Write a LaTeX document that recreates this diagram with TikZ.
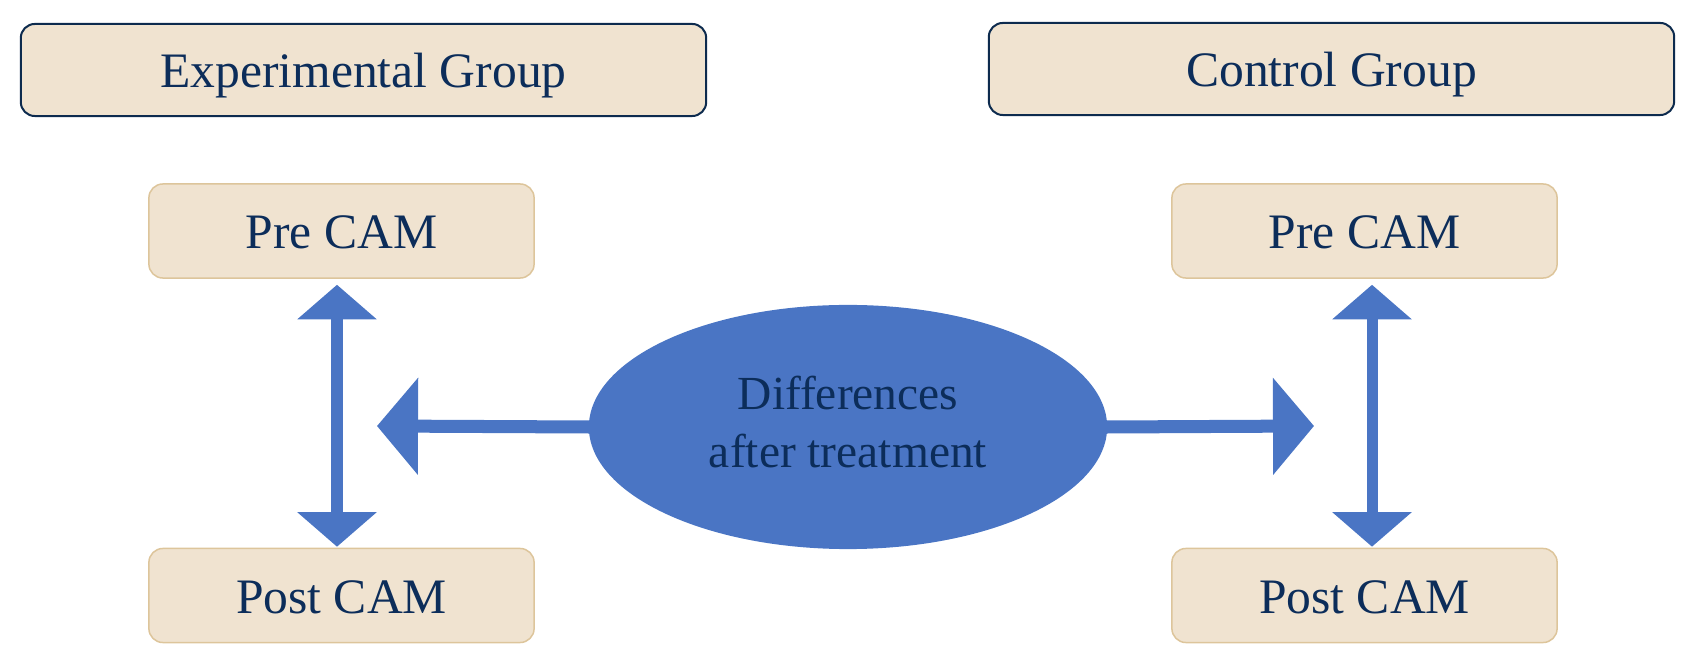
\documentclass[tikz,border=0pt]{standalone}
\usepackage{fontspec}
\setmainfont{Liberation Serif}
\usetikzlibrary{arrows.meta,shapes.geometric}
\definecolor{beige}{HTML}{F0E3D0}
\definecolor{navy}{HTML}{0D2B4E}
\definecolor{txt}{HTML}{0C2D5A}
\definecolor{tan}{HTML}{DDC59B}
\definecolor{blu}{HTML}{4A75C4}
\tikzset{
  groupbox/.style={draw=navy, line width=0.02cm, fill=beige, rounded corners=0.14cm,
    minimum width=6.85cm, minimum height=0.92cm, inner sep=0pt, text=txt,
    text height=11.5pt, text depth=1.3pt,
    font=\fontsize{14.1pt}{17pt}\selectfont},
  cambox/.style={draw=tan, line width=0.015cm, fill=beige, rounded corners=0.14cm,
    minimum width=3.85cm, minimum height=0.94cm, inner sep=0pt, text=txt,
    text height=11.5pt, text depth=1.3pt,
    font=\fontsize{14.1pt}{17pt}\selectfont},
  diffell/.style={ellipse, fill=blu, draw=none, minimum width=5.18cm, minimum height=2.44cm,
    inner sep=0pt},
  difftext/.style={text=txt, align=center, inner sep=0pt,
    font=\fontsize{13.5pt}{16.5pt}\selectfont},
  varrow/.style={blu, line width=0.11cm, {Triangle[length=0.345cm,width=0.775cm]}-{Triangle[length=0.345cm,width=0.775cm]}},
  harrow/.style={blu, line width=0.13cm, -{Triangle[length=0.41cm,width=0.95cm]}}
}
\begin{document}
\begin{tikzpicture}[x=0.01cm,y=-0.01cm]
\useasboundingbox (0,0) rectangle (1687,661);
\node[groupbox] (exp) at (363.5,70) {Experimental Group};
\node[groupbox] (ctl) at (1331.5,69) {Control Group};
\node[cambox] (preL) at (341.5,231) {Pre CAM};
\node[cambox] (postL) at (341.5,595.5) {Post CAM};
\node[cambox] (preR) at (1364.5,231) {Pre CAM};
\node[cambox] (postR) at (1364.5,595.5) {Post CAM};
\node[diffell] (diff) at (848,427) {};
\node[difftext] (difflbl) at ([yshift=0.05cm]diff.center) {Differences\\after treatment};
\coordinate (tipL) at (377,426);
\coordinate (tipR) at (1314,426);
\draw[varrow, shorten <=0.06cm, shorten >=0.01cm] ([xshift=-0.045cm]preL.south) -- ([xshift=-0.045cm]postL.north);
\draw[varrow, shorten <=0.06cm, shorten >=0.01cm] ([xshift=0.075cm]preR.south) -- ([xshift=0.075cm]postR.north);
\draw[harrow, shorten <=-0.04cm] (diff.west) -- (tipL);
\draw[harrow, shorten <=-0.04cm] (diff.east) -- (tipR);
\end{tikzpicture}
\end{document}
